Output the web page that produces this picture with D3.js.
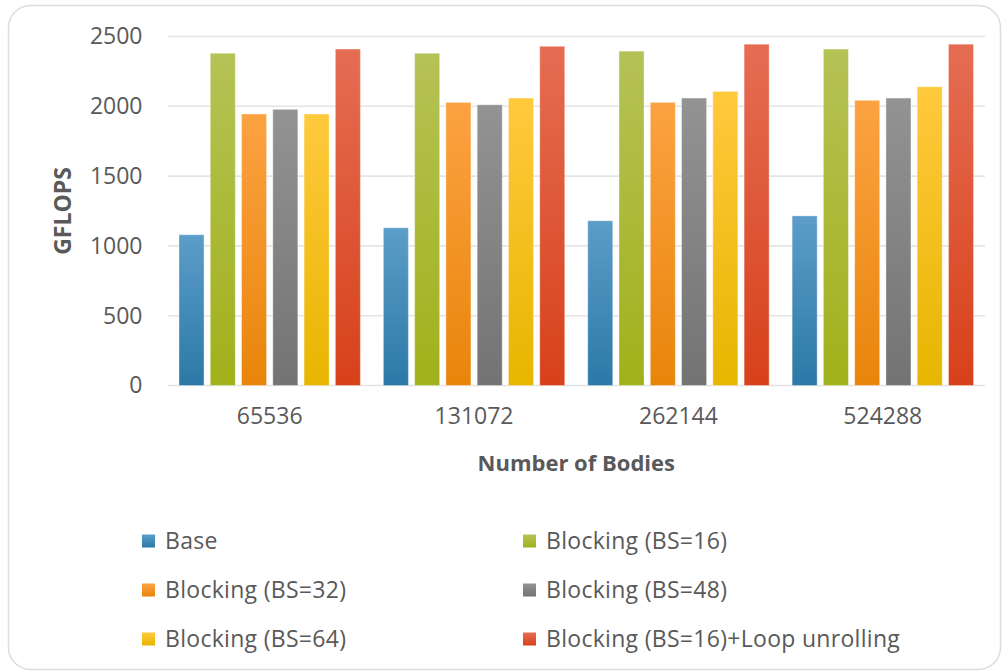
<!DOCTYPE html>
<html>
<head>
<meta charset="utf-8">
<script src="https://cdn.jsdelivr.net/npm/d3@7"></script>
<style>
  body { margin: 0; background: #ffffff; }
  svg { display: block; font-family: "Open Sans", "Noto Sans", sans-serif; }
</style>
</head>
<body>
<div class="chart"></div>
<script>
// DATA
const CATEGORIES = ["65536", "131072", "262144", "524288"];
const SERIES = ["Base", "Blocking (BS=16)", "Blocking (BS=32)", "Blocking (BS=48)",
                "Blocking (BS=64)", "Blocking (BS=16)+Loop unrolling"];
const BASE = [1080, 1130, 1180, 1215];
const BS16 = [2380, 2380, 2395, 2410];
const BS32 = [1945, 2028, 2028, 2043];
const BS48 = [1978, 2011, 2059, 2059];
const BS64 = [1945, 2059, 2107, 2140];
const BS16_UNROLL = [2410, 2430, 2445, 2445];
const Y_TICKS = [0, 500, 1000, 1500, 2000, 2500];

const VALUES = [BASE, BS16, BS32, BS48, BS64, BS16_UNROLL];

// top / bottom colours of each bar gradient
const COLORS = [
  ["#5c9dc9", "#2b79a7"],
  ["#b5c256", "#a1b11a"],
  ["#fca242", "#e8850a"],
  ["#939393", "#737373"],
  ["#ffc93d", "#e7b600"],
  ["#e56d53", "#d7411a"]
];

// GLOBAL CONSTANTS
const FRAME_WIDTH = 1005;
const FRAME_HEIGHT = 672;
const PLOT = {left: 167.5, right: 985, top: 36.5, bottom: 385.5};
const TEXT_COLOR = "#595959";
const GRID_COLOR = "#e4e4e4";

const FRAME = d3.select(".chart")
  .append("svg")
    .attr("width", FRAME_WIDTH)
    .attr("height", FRAME_HEIGHT);

// outer rounded border
FRAME.append("rect")
  .attr("x", 8.5)
  .attr("y", 5.5)
  .attr("width", 992)
  .attr("height", 664)
  .attr("rx", 22)
  .attr("fill", "#ffffff")
  .attr("stroke", "#dcdcdc")
  .attr("stroke-width", 1.5);

// gradients
const DEFS = FRAME.append("defs");
COLORS.forEach((c, i) => {
  const g = DEFS.append("linearGradient")
    .attr("id", "grad" + i)
    .attr("x1", 0).attr("y1", 0)
    .attr("x2", 0).attr("y2", 1);
  g.append("stop").attr("offset", "0%").attr("stop-color", c[0]);
  g.append("stop").attr("offset", "100%").attr("stop-color", c[1]);
});

// scales
const X_SCALE = d3.scaleBand()
  .domain(CATEGORIES)
  .range([PLOT.left, PLOT.right])
  .padding(0);

const X_INNER = d3.scaleBand()
  .domain(d3.range(SERIES.length))
  .range([11.5, X_SCALE.bandwidth() - 11.5])
  .paddingInner(0.2)
  .paddingOuter(0);

const Y_SCALE = d3.scaleLinear()
  .domain([0, 2500])
  .range([PLOT.bottom, PLOT.top]);

// gridlines
FRAME.append("g")
  .selectAll("line")
  .data(Y_TICKS)
  .enter()
  .append("line")
    .attr("x1", PLOT.left)
    .attr("x2", PLOT.right)
    .attr("y1", (d) => Y_SCALE(d))
    .attr("y2", (d) => Y_SCALE(d))
    .attr("stroke", GRID_COLOR)
    .attr("stroke-width", 1.6);

// y axis (labels only)
const Y_AXIS = FRAME.append("g")
  .attr("transform", "translate(" + (PLOT.left - 25) + ",0)")
  .call(d3.axisLeft(Y_SCALE).tickValues(Y_TICKS).tickFormat(d3.format("d"))
          .tickSize(0).tickPadding(0));
Y_AXIS.select(".domain").remove();
Y_AXIS.selectAll("text")
  .attr("font-size", "23px")
  .attr("font-family", "Open Sans, sans-serif")
  .attr("fill", TEXT_COLOR);

// x axis (labels only)
const X_AXIS = FRAME.append("g")
  .attr("transform", "translate(0," + (PLOT.bottom + 22) + ")")
  .call(d3.axisBottom(X_SCALE).tickSize(0).tickPadding(0));
X_AXIS.select(".domain").remove();
X_AXIS.selectAll("text")
  .attr("font-size", "23px")
  .attr("font-family", "Open Sans, sans-serif")
  .attr("fill", TEXT_COLOR);

// bars
const GROUPS = FRAME.append("g")
  .selectAll("g")
  .data(CATEGORIES)
  .enter()
  .append("g")
    .attr("transform", (d) => "translate(" + X_SCALE(d) + ",0)");

GROUPS.selectAll("rect")
  .data((d, ci) => VALUES.map((vals, si) => ({series: si, value: vals[ci]})))
  .enter()
  .append("rect")
    .attr("x", (d) => X_INNER(d.series))
    .attr("y", (d) => Y_SCALE(d.value))
    .attr("width", X_INNER.bandwidth())
    .attr("height", (d) => Y_SCALE(0) - Y_SCALE(d.value))
    .attr("fill", (d) => "url(#grad" + d.series + ")")
    .attr("stroke", "#ffffff")
    .attr("stroke-opacity", 0.35)
    .attr("stroke-width", 1);

// axis titles
FRAME.append("text")
  .attr("transform", "translate(71," + ((PLOT.top + PLOT.bottom) / 2) + ") rotate(-90)")
  .attr("text-anchor", "middle")
  .attr("font-size", "23px")
  .attr("font-weight", "bold")
  .attr("fill", TEXT_COLOR)
  .text("GFLOPS");

FRAME.append("text")
  .attr("x", (PLOT.left + PLOT.right) / 2)
  .attr("y", 471)
  .attr("text-anchor", "middle")
  .attr("font-size", "22px")
  .attr("font-weight", "bold")
  .attr("fill", TEXT_COLOR)
  .text("Number of Bodies");

// legend
const LEGEND_X = [142, 523];
const LEGEND_Y = [541, 590, 639];

const LEGEND = FRAME.append("g")
  .selectAll("g")
  .data(SERIES)
  .enter()
  .append("g")
    .attr("transform", (d, i) => "translate(" + LEGEND_X[i % 2] + "," + LEGEND_Y[Math.floor(i / 2)] + ")");

LEGEND.append("rect")
  .attr("x", 0)
  .attr("y", -6.5)
  .attr("width", 13)
  .attr("height", 13)
  .attr("fill", (d, i) => "url(#grad" + i + ")");

LEGEND.append("text")
  .attr("x", 23)
  .attr("y", 0)
  .attr("dy", "0.35em")
  .attr("font-size", "23px")
  .attr("letter-spacing", "0.3px")
  .attr("fill", TEXT_COLOR)
  .text((d) => d);
</script>
</body>
</html>
